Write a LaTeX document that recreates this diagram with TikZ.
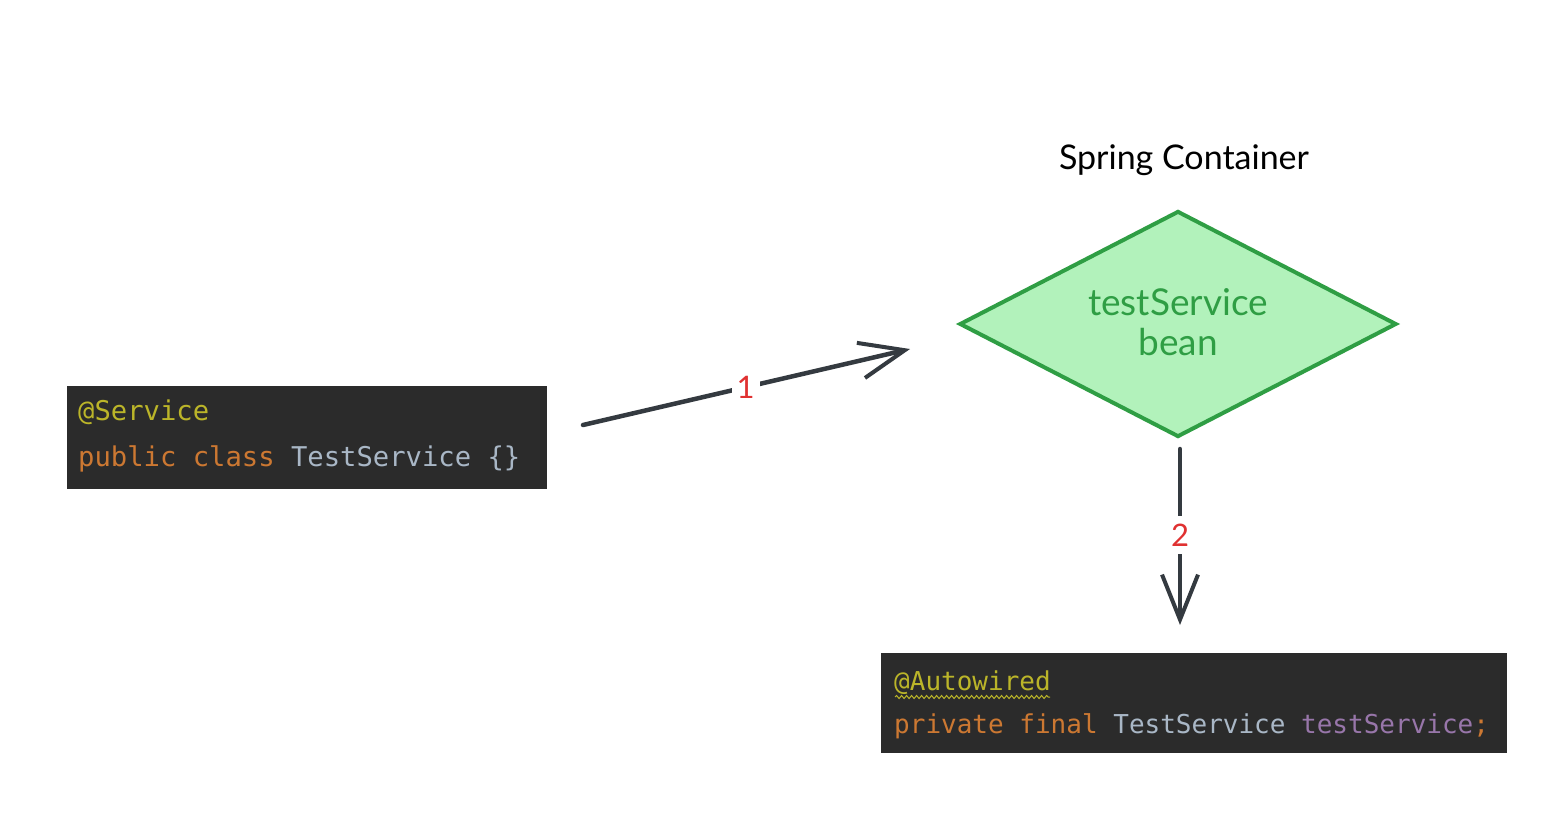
\documentclass[tikz,border=0pt]{standalone}
\usepackage{fontspec}
\setmainfont{Lato}
\newfontfamily\codefont{DejaVu Sans Mono}
\newfontfamily\handfont{Lato}
\usetikzlibrary{arrows.meta,shapes.geometric,decorations.pathmorphing}
\definecolor{codebg}{HTML}{2B2B2B}
\definecolor{annot}{HTML}{BBB529}
\definecolor{kw}{HTML}{CC7832}
\definecolor{cls}{HTML}{A9B7C6}
\definecolor{fld}{HTML}{9876AA}
\definecolor{beanfill}{HTML}{B2F2BB}
\definecolor{beanline}{HTML}{2F9E44}
\definecolor{arrowc}{HTML}{343A40}
\definecolor{labred}{HTML}{E03131}
\begin{document}
\begin{tikzpicture}[x=1pt,y=-1pt,
  codebox/.style={fill=codebg, draw=none, inner sep=0pt, anchor=north west},
  codetext/.style={anchor=base west, inner sep=0pt, font=\codefont\fontsize{26}{32}\selectfont},
  codetextbig/.style={anchor=base west, inner sep=0pt, font=\codefont\fontsize{27.2}{32}\selectfont},
  bean/.style={diamond, fill=beanfill, draw=beanline, line width=4pt, inner sep=0pt,
    minimum width=437pt, minimum height=226pt},
  beantext/.style={text=beanline, align=center, font=\handfont\fontsize{37}{40}\selectfont},
  title/.style={font=\handfont\fontsize{34}{40}\selectfont, text=black},
  conn/.style={draw=arrowc, line width=4.5pt, line cap=round,
    -{Straight Barb[length=45pt,width=36pt,line width=4pt]}},
  steplabel/.style={text=labred, fill=white, inner xsep=5pt, inner ysep=8pt, font=\handfont\fontsize{31}{34}\selectfont}
]
\useasboundingbox (0,0) rectangle (1564,824);
\fill[white] (0,0) rectangle (1564,824);

% code box 1
\node[codebox, minimum width=480pt, minimum height=103pt] (box1) at (67,386) {};
\node[codetextbig] (b1l1) at (78,420) {\color{annot}@Service};
\node[codetextbig] (b1l2) at (78,466) {\color{kw}public class \color{cls}TestService \{\}};

% code box 2
\node[codebox, minimum width=626pt, minimum height=100pt] (box2) at (881,653) {};
\node[codetext] (b2l1) at (894,690) {\color{annot}@Autowired};
\node[codetext] (b2l2) at (894,733) {\color{kw}private final \color{cls}TestService \color{fld}testService\color{kw};};
\draw[annot, line width=1pt, decorate, decoration={snake, amplitude=1.5pt, segment length=5pt}]
  (895,697) -- (1050,697);

% bean diamond
\node[bean] (bean) at (1178,324) {};
\node[beantext] (beantxt) at (1178,322) {testService\\bean};
\node[title] (title) at (1184,160) {Spring Container};

% connectors
\coordinate (a1s) at (583,425);
\coordinate (a1e) at (910,349);
\coordinate (a2s) at (1180,449);
\coordinate (a2e) at (1180,625);
\draw[conn] (a1s) -- node[steplabel, pos=0.497] (lab1) {1} (a1e);
\draw[conn] (a2s) -- node[steplabel, pos=0.49] (lab2) {2} (a2e);
\end{tikzpicture}
\end{document}
